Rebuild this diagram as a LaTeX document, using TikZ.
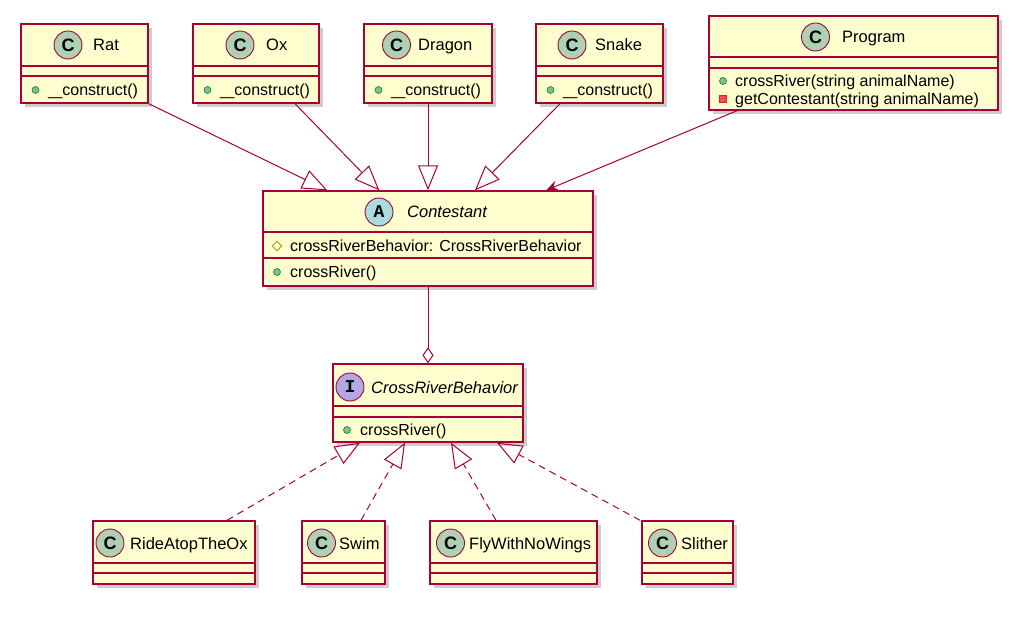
\documentclass[tikz,border=0pt]{standalone}
\usepackage{fontspec}
\setmainfont{Liberation Sans}
\newfontfamily\iconmono{Liberation Mono}
\usetikzlibrary{arrows.meta,shadows,calc,shapes.geometric}
\definecolor{uborder}{HTML}{A80036}
\definecolor{ufill}{HTML}{FEFECE}
\definecolor{iconC}{HTML}{ADD1B2}
\definecolor{iconA}{HTML}{A9DCDF}
\definecolor{iconI}{HTML}{B4A7E5}
\definecolor{pubfill}{HTML}{84BE84}
\definecolor{pubdraw}{HTML}{038048}
\definecolor{privfill}{HTML}{F24D5C}
\definecolor{privdraw}{HTML}{C82930}
\definecolor{protdraw}{HTML}{B38D22}
\tikzset{
  umlbox/.style={draw=uborder, fill=ufill, line width=1.4pt, inner sep=0pt,
    drop shadow={shadow xshift=4pt, shadow yshift=-4pt, opacity=0.28, fill=black!70}},
  sepline/.style={draw=uborder, line width=1.2pt},
  icon/.style={circle, draw=uborder, fill=#1, line width=0.9pt, inner sep=0pt, minimum size=28pt,
    font=\fontsize{18}{18}\selectfont\bfseries},
  ctitle/.style={anchor=west, inner sep=0pt, text height=12pt, text depth=0pt,
    font=\fontsize{16.5}{16.5}\selectfont},
  member/.style={anchor=west, inner sep=0pt, text height=11.5pt, text depth=0pt,
    font=\fontsize{16}{16}\selectfont},
  pub/.style={circle, draw=pubdraw, fill=pubfill, line width=0.6pt, inner sep=0pt, minimum size=7pt},
  priv/.style={rectangle, draw=privdraw, fill=privfill, line width=0.6pt, inner sep=0pt, minimum size=7pt},
  prot/.style={diamond, draw=protdraw, line width=0.9pt, inner sep=0pt, minimum size=10pt},
  rel/.style={draw=uborder, line width=1pt},
  ext/.style={rel, -{Triangle[open, length=25pt, width=20pt]}},
  impl/.style={ext, dash pattern=on 7pt off 5pt},
  dep/.style={rel, -{Stealth[length=12pt, width=10pt, inset=4pt]}},
  agg/.style={rel, -{Diamond[open, length=16pt, width=11pt]}},
}
\newcommand\umlclass[7]{%
  \node[umlbox, minimum width={#4-#2}, minimum height={#5-#3}] (#1) at ({(#2+#4)/2},{(#3+#5)/2}) {};
  \draw[sepline] (#2,#6) -- (#4,#6);
  \draw[sepline] (#2,#7) -- (#4,#7);}
\newcommand\ctor{\scalebox{0.8}[1]{\_\_}construct()}
\begin{document}
\begin{tikzpicture}[x=1pt,y=-1pt]
\fill[white] (0,0) rectangle (1024,617);
\useasboundingbox (0,0) rectangle (1024,617);

% top classes
\umlclass{rat}{21}{24}{148}{103}{66}{76}
\node[icon=iconC] (raticon) at (68,45) {C};
\node[ctitle] (rattitle) at (93,45) {Rat};
\node[pub] (ratb) at (35.5,90) {};
\node[member] (ratm) at (48,90) {\ctor};

\umlclass{ox}{193}{24}{319}{103}{66}{76}
\node[icon=iconC] (oxicon) at (240,45) {C};
\node[ctitle] (oxtitle) at (266,45) {Ox};
\node[pub] (oxb) at (207.5,90) {};
\node[member] (oxm) at (220,90) {\ctor};

\umlclass{dragon}{364}{24}{492}{103}{66}{76}
\node[icon=iconC] (dragonicon) at (396.5,45) {C};
\node[ctitle] (dragontitle) at (418,45) {Dragon};
\node[pub] (dragonb) at (378.5,90) {};
\node[member] (dragonm) at (391,90) {\ctor};

\umlclass{snake}{536}{24}{663}{103}{66}{76}
\node[icon=iconC] (snakeicon) at (572,45) {C};
\node[ctitle] (snaketitle) at (595,45) {Snake};
\node[pub] (snakeb) at (550.5,90) {};
\node[member] (snakem) at (563,90) {\ctor};

\umlclass{program}{709}{16}{998}{110}{57}{68}
\node[icon=iconC] (programicon) at (815.5,37) {C};
\node[ctitle] (programtitle) at (842,37) {Program};
\node[pub] (programb1) at (723,81) {};
\node[member] (programm1) at (735,81) {crossRiver(string animalName)};
\node[priv] (programb2) at (723,99) {};
\node[member] (programm2) at (735,99) {getContestant(string animalName)};

% Contestant
\umlclass{cont}{263}{191}{593}{286}{232}{258}
\node[icon=iconA] (conticon) at (379,212) {\iconmono\bfseries A};
\node[ctitle] (conttitle) at (407,212) {\itshape Contestant};
\node[prot] (contb1) at (277,246) {};
\node[member] (contm1) at (290,246) {crossRiverBehavior: CrossRiverBehavior};
\node[pub] (contb2) at (277,272) {};
\node[member] (contm2) at (290,272) {crossRiver()};

% CrossRiverBehavior
\umlclass{crb}{333}{364}{523}{442}{406}{417}
\node[icon=iconI] (crbicon) at (350,387) {\iconmono\bfseries I};
\node[ctitle] (crbtitle) at (371,387) {\itshape CrossRiverBehavior};
\node[pub] (crbb) at (347,430) {};
\node[member] (crbm) at (360,430) {crossRiver()};

% bottom classes
\umlclass{ride}{93}{521}{255}{584}{563}{573}
\node[icon=iconC] (rideicon) at (110,543) {C};
\node[ctitle] (ridetitle) at (130,543) {RideAtopTheOx};

\umlclass{swim}{302}{521}{385}{584}{563}{573}
\node[icon=iconC] (swimicon) at (321.5,543) {C};
\node[ctitle] (swimtitle) at (339,543) {Swim};

\umlclass{fly}{430}{521}{597}{584}{563}{573}
\node[icon=iconC] (flyicon) at (450.5,543) {C};
\node[ctitle] (flytitle) at (469,543) {FlyWithNoWings};

\umlclass{slither}{642}{521}{733}{584}{563}{573}
\node[icon=iconC] (slithericon) at (662.5,543) {C};
\node[ctitle] (slithertitle) at (681,543) {Slither};

% relations
\draw[ext] (rat.south east) -- ([xshift=65pt]cont.north west);
\draw[ext] ([xshift=39pt]ox.south) -- ([xshift=117pt]cont.north west);
\draw[ext] (dragon.south) -- (cont.north);
\draw[ext] ([xshift=-39.5pt]snake.south) -- ([xshift=47pt]cont.north);
\draw[dep] ([xshift=-116.5pt]program.south) -- ([xshift=118pt]cont.north);
\draw[agg] (cont.south) -- (crb.north);
\draw[impl] ([xshift=53pt]ride.north) -- ([xshift=-68pt]crb.south);
\draw[impl] ([xshift=17.5pt]swim.north) -- ([xshift=-23pt]crb.south);
\draw[impl] ([xshift=-17.5pt]fly.north) -- ([xshift=23pt]crb.south);
\draw[impl] ([xshift=-47.5pt]slither.north) -- ([xshift=69pt]crb.south);
\end{tikzpicture}
\end{document}
